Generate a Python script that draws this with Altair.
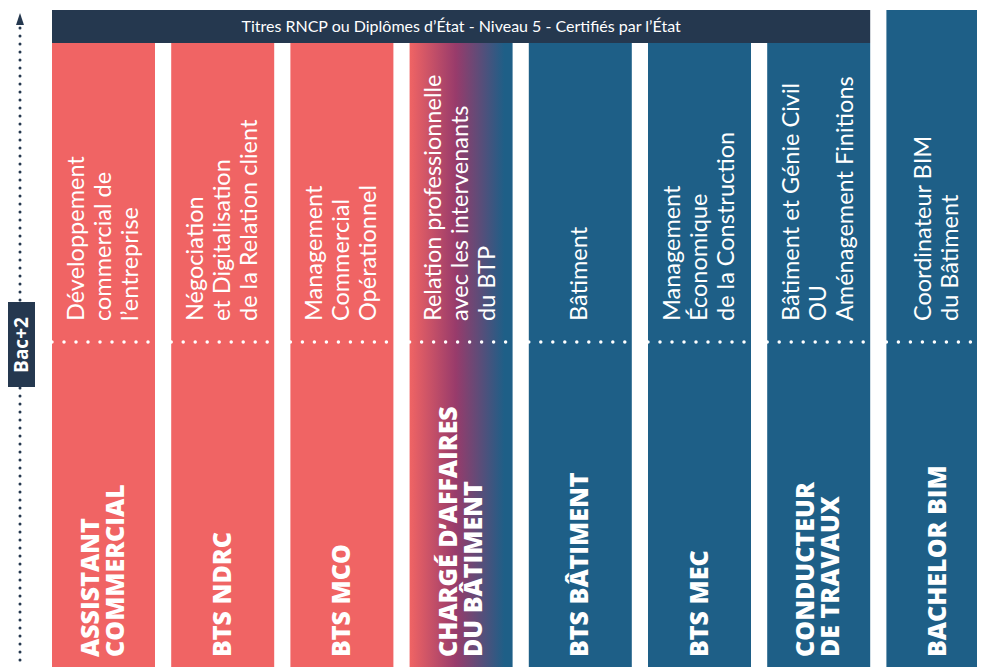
import altair as alt
import pandas as pd

# ---------------- content ----------------
HEADER_TEXT = "Titres RNCP ou Diplômes d’État - Niveau 5 - Certifiés par l’État"
LEVEL = "Bac+2"
titles = [
    "ASSISTANT\nCOMMERCIAL",
    "BTS NDRC",
    "BTS MCO",
    "CHARGÉ D’AFFAIRES\nDU BÂTIMENT",
    "BTS BÂTIMENT",
    "BTS MEC",
    "CONDUCTEUR\nDE TRAVAUX",
    "BACHELOR BIM",
]
subtitles = [
    "Développement\ncommercial de\nl’entreprise",
    "Négociation\net Digitalisation\nde la Relation client",
    "Management\nCommercial\nOpérationnel",
    "Relation professionnelle\navec les intervenants\ndu BTP",
    "Bâtiment",
    "Management\nÉconomique\nde la Construction",
    "Bâtiment et Génie Civil\nOU\nAménagement Finitions",
    "Coordinateur BIM\ndu Bâtiment",
]
families = ["commerce", "commerce", "commerce", "mixte",
            "batiment", "batiment", "batiment", "batiment"]
under_header = [True, True, True, True, True, True, True, False]

# ---------------- style ----------------
CORAL = "#F06464"
BLUE = "#1E5F87"
NAVY = "#25384F"
PURPLE = "#983B6B"
WHITE = "#FFFFFF"

W, H = 969, 659
STEP = 119.2            # px per column slot
COL0 = 95.5             # px from chart left to first column centre
HALF = 51.5 / STEP      # half column width in slot units
X0 = -COL0 / STEP
X1 = X0 + W / STEP

SUB_LH = 27
TITLE_LH = 25

TOP_BAND = 2
HEADER_BOTTOM = 35
DOTS_Y = 334
SUB_Y = 313
TITLE_Y = 649
HEADER_TEXT_Y = 19
AXIS_X = (12 - COL0) / STEP
LABEL_X = (13.5 - COL0) / STEP
BOX_RIGHT = (27 - COL0) / STEP

xs = alt.Scale(domain=[X0, X1], nice=False, zero=False)
ys = alt.Scale(domain=[0, H], reverse=True, nice=False, zero=False)


def X(f):
    return alt.X(f"{f}:Q", scale=xs, axis=None)


def Y(f):
    return alt.Y(f"{f}:Q", scale=ys, axis=None)


cols = pd.DataFrame({
    "slot": list(range(len(titles))),
    "title": titles,
    "subtitle": subtitles,
    "family": families,
    "under": under_header,
})

base = alt.Chart(cols).transform_calculate(
    left=f"datum.slot - {HALF}",
    right=f"datum.slot + {HALF}",
    top=f"datum.under ? {HEADER_BOTTOM} : {TOP_BAND}",
    bottom=f"{H}",
    dots=f"{DOTS_Y}",
    sub_y=f"{SUB_Y}",
    title_y=f"{TITLE_Y}",
    sub_n="length(split(datum.subtitle, '\\n'))",
    title_n="length(split(datum.title, '\\n'))",
).transform_calculate(
    sub_x=f"datum.slot - (datum.sub_n - 1) * {SUB_LH / 2 / STEP}",
    title_x=f"datum.slot - (datum.title_n - 1) * {TITLE_LH / 2 / STEP}",
)

solid = base.transform_filter("datum.family != 'mixte'").mark_rect().encode(
    x=X("left"), x2="right", y=Y("top"), y2="bottom",
    color=alt.Color("family:N",
                    scale=alt.Scale(domain=["commerce", "batiment"], range=[CORAL, BLUE]),
                    legend=None),
)

grad = base.transform_filter("datum.family == 'mixte'").mark_rect(
    fill=alt.LinearGradient(
        gradient="linear",
        stops=[alt.GradientStop(color=CORAL, offset=0),
               alt.GradientStop(color=PURPLE, offset=0.45),
               alt.GradientStop(color=BLUE, offset=0.92)],
        x1=0, x2=1, y1=0, y2=0,
    )
).encode(x=X("left"), x2="right", y=Y("top"), y2="bottom")

header_df = pd.DataFrame({
    "left": [-HALF], "right": [6 + HALF],
    "top": [TOP_BAND], "bottom": [HEADER_BOTTOM],
    "mid": [3.0], "ty": [HEADER_TEXT_Y], "label": [HEADER_TEXT],
})
header = alt.Chart(header_df).mark_rect(color=NAVY).encode(
    x=X("left"), x2="right", y=Y("top"), y2="bottom")
header_txt = alt.Chart(header_df).mark_text(
    color=WHITE, font="Lato", fontSize=16, fontWeight=400,
    align="center", baseline="middle"
).encode(x=X("mid"), y=Y("ty"), text="label:N")

dots = base.mark_rule(color=WHITE, strokeWidth=3.5, strokeDash=[0, 12],
                      strokeCap="round").encode(
    x=X("left"), x2="right", y=Y("dots"))

subs = base.mark_text(
    angle=270, align="left", baseline="middle", lineBreak="\n", lineHeight=SUB_LH,
    font="Lato", fontWeight=400, fontSize=23.5, color=WHITE
).encode(x=X("sub_x"), y=Y("sub_y"), text="subtitle:N")

tits = base.mark_text(
    angle=270, align="left", baseline="middle", lineBreak="\n", lineHeight=TITLE_LH,
    font="Open Sans", fontWeight=800, fontSize=25, color=WHITE
).encode(x=X("title_x"), y=Y("title_y"), text="title:N")

axis_df = pd.DataFrame({"x": [AXIS_X], "lx": [LABEL_X], "y": [20], "y2": [H], "ay": [11],
                        "bx": [X0], "bx2": [BOX_RIGHT], "by": [294], "by2": [379],
                        "ty": [337], "label": [LEVEL]})
axis_line = alt.Chart(axis_df).mark_rule(
    color=NAVY, strokeWidth=3, strokeDash=[0, 8], strokeCap="round"
).encode(x=X("x"), y=Y("y"), y2="y2")
arrow = alt.Chart(axis_df).mark_point(
    shape="M0,-1L0.65,1L-0.65,1Z", filled=True, color=NAVY, size=150, opacity=1
).encode(x=X("x"), y=Y("ay"))
box = alt.Chart(axis_df).mark_rect(color=NAVY).encode(
    x=X("bx"), x2="bx2", y=Y("by"), y2="by2")
box_txt = alt.Chart(axis_df).mark_text(
    angle=270, align="center", baseline="middle", font="Open Sans",
    fontWeight=700, fontSize=19, color=WHITE
).encode(x=X("lx"), y=Y("ty"), text="label:N")

chart = alt.layer(
    solid, grad, header, header_txt, dots, subs, tits,
    axis_line, arrow, box, box_txt
).properties(
    width=W, height=H, padding=0,
    autosize=alt.AutoSizeParams(type="none"),
    background=WHITE,
).configure_view(strokeWidth=0)

chart.save("out.html", embed_options={"renderer": "svg", "actions": False})
